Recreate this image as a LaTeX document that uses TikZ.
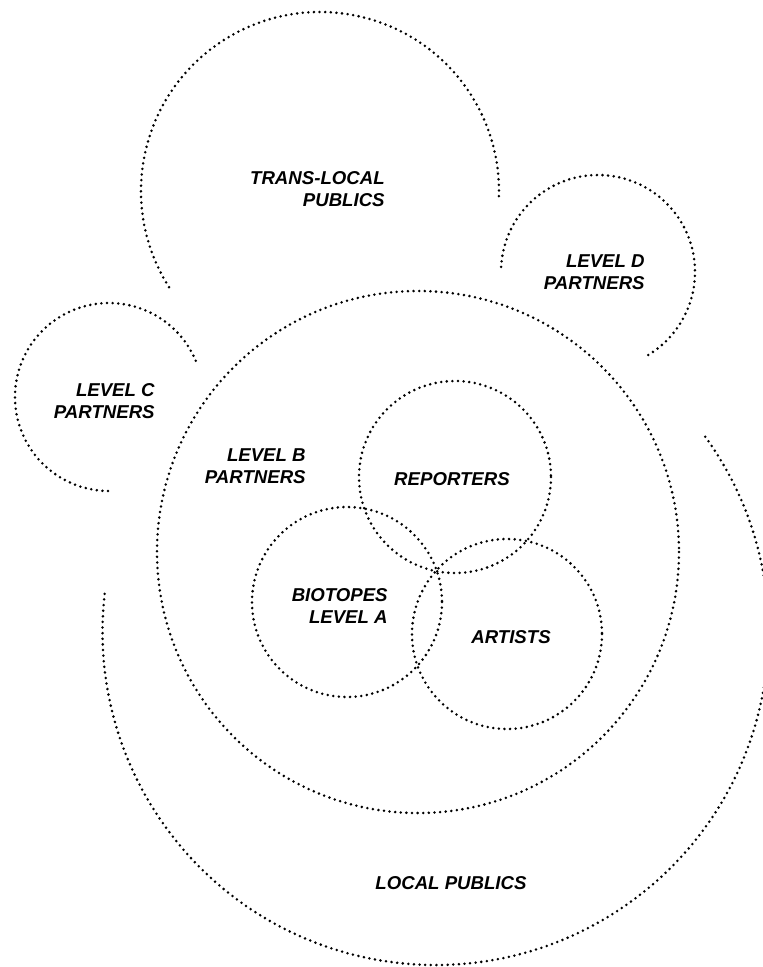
\documentclass[tikz,border=0pt]{standalone}
\usepackage{fontspec}
\setmainfont{Liberation Sans}
\begin{document}
\begin{tikzpicture}[x=0.02cm,y=-0.02cm]
\tikzset{
  dotline/.style={line width=1.6pt, line cap=round, dash pattern=on 0pt off 3.2pt},
  lbl/.style={inner sep=0pt, font=\fontsize{10.6}{12.5}\selectfont\bfseries\itshape},
}
\useasboundingbox (0,0) rectangle (762,967);
% trans-local publics arc
\draw[dotline] (320,191) ++(147.5:179) arc[start angle=147.5, end angle=362.9, radius=179];
% level D arc
\draw[dotline] (598,272) ++(183:97) arc[start angle=183, end angle=420, radius=97];
% level C arc
\draw[dotline] (109,397) ++(90.6:94) arc[start angle=90.6, end angle=338.5, radius=94];
% local publics arc
\draw[dotline] (435.5,632) ++(-35.9:333) arc[start angle=-35.9, end angle=186.7, radius=333];
% level B circle
\draw[dotline] (418,552) circle[radius=261];
% reporters, biotopes, artists
\draw[dotline] (455,477) circle[radius=96];
\draw[dotline] (347,602) circle[radius=95];
\draw[dotline] (507,634) circle[radius=95];
% labels
\node[lbl, anchor=east, align=right] (trans) at (385,189) {TRANS-LOCAL\\PUBLICS};
\node[lbl, anchor=east, align=right] (levd) at (645,272.5) {LEVEL D\\PARTNERS};
\node[lbl, anchor=east, align=right] (levc) at (155,401) {LEVEL C\\PARTNERS};
\node[lbl, anchor=east, align=right] (levb) at (306,466) {LEVEL B\\PARTNERS};
\node[lbl] (rep) at (452,479) {REPORTERS};
\node[lbl, anchor=east, align=right] (bio) at (388,606) {BIOTOPES\\LEVEL A};
\node[lbl] (art) at (511,637) {ARTISTS};
\node[lbl] (local) at (451,883) {LOCAL PUBLICS};
\end{tikzpicture}
\end{document}
